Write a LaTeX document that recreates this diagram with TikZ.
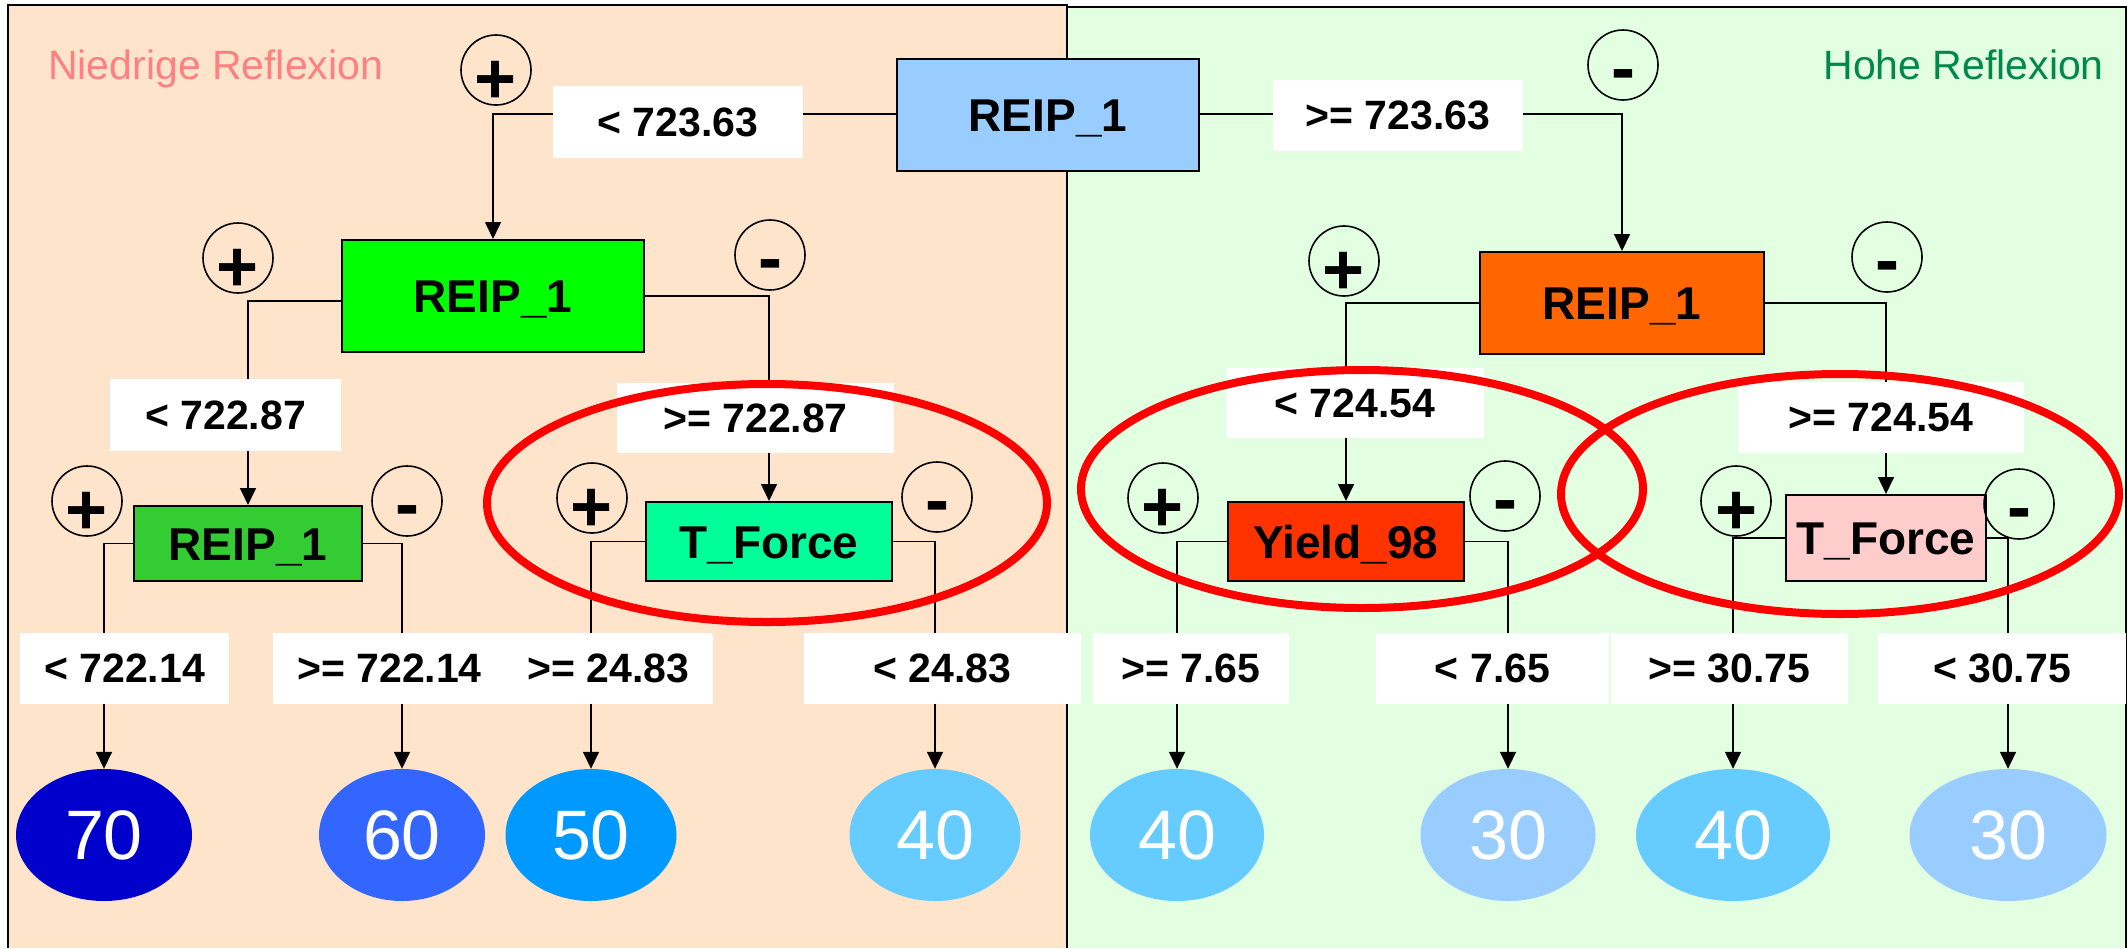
\documentclass[tikz,border=0pt]{standalone}
\usepackage{fontspec}
\setmainfont{Liberation Sans}
\usetikzlibrary{arrows.meta,shapes.geometric,calc}
\pgfdeclarelayer{bg}
\pgfdeclarelayer{edges}
\pgfdeclarelayer{fg}
\pgfsetlayers{bg,edges,main,fg}
\definecolor{peach}{HTML}{FFE4CC}
\definecolor{mint}{HTML}{E2FFE2}
\definecolor{cRoot}{HTML}{99CCFF}
\definecolor{cGreen}{HTML}{00FF00}
\definecolor{cSmall}{HTML}{33CC33}
\definecolor{cTF}{HTML}{00FF99}
\definecolor{cOrange}{HTML}{FF6600}
\definecolor{cYield}{HTML}{FF3300}
\definecolor{cPink}{HTML}{FFCCCC}
\definecolor{cL70}{HTML}{0000CC}
\definecolor{cL60}{HTML}{3366FF}
\definecolor{cL50}{HTML}{0099FF}
\definecolor{cL40}{HTML}{66CCFF}
\definecolor{cL30}{HTML}{99CCFF}
\definecolor{cNied}{HTML}{FF8080}
\definecolor{cHohe}{HTML}{00884A}
\begin{document}
\begin{tikzpicture}[x=1pt,y=-1pt,
  lbl/.style={fill=white, inner sep=0pt, font=\fontsize{41pt}{49pt}\selectfont\bfseries},
  box/.style={draw=black, line width=2pt, inner sep=0pt, font=\fontsize{46pt}{55pt}\selectfont\bfseries, text height=33pt, text depth=0pt},
  leaf/.style={ellipse, inner sep=0pt, text=white, minimum height=132pt, font=\fontsize{70pt}{84pt}\selectfont},
  sgn/.style={circle, draw=black, line width=1.6pt, minimum size=70pt, inner sep=0pt},
  sgntxt/.style={inner sep=0pt, anchor=base, font=\fontsize{72pt}{86pt}\selectfont\bfseries},
  con/.style={line width=1.6pt, -{Triangle[length=17pt,width=16pt]}},
  ring/.style={ellipse, draw=red, line width=8pt, inner sep=0pt},
  panel/.style={line width=2.5pt}
]
\path[use as bounding box] (0,0) rectangle (2127,948);

% panels
\begin{pgfonlayer}{bg}
\fill[peach] (8,5) rectangle (1067,948);
\draw[panel] (8,948) -- (8,5) -- (1067,5) -- (1067,948);
\fill[mint] (1067,7) rectangle (2126,948);
\draw[panel] (1067,948) -- (1067,7) -- (2126,7) -- (2126,948);
\end{pgfonlayer}

\node[anchor=base west, text=cNied, inner sep=0pt, font=\fontsize{41pt}{49pt}\selectfont] (tNied) at (48,79) {Niedrige Reflexion};
\node[anchor=base east, text=cHohe, inner sep=0pt, font=\fontsize{41pt}{49pt}\selectfont] (tHohe) at (2104,79) {Hohe Reflexion};

% decision boxes
\node[box, fill=cRoot, minimum width=302pt, minimum height=112pt] (root) at (1048,115) {REIP\_1};
\node[box, fill=cGreen, minimum width=302pt, minimum height=112pt] (g) at (493,296) {REIP\_1};
\node[box, fill=cOrange, minimum width=284pt, minimum height=102pt] (o) at (1622,303) {REIP\_1};
\node[box, fill=cSmall, minimum width=228pt, minimum height=75pt] (r3) at (248,543.5) {REIP\_1};
\node[box, fill=cTF, minimum width=246pt, minimum height=79pt] (tf1) at (769,541.5) {T\_Force};
\node[box, fill=cYield, minimum width=236pt, minimum height=79pt] (y98) at (1346,541.5) {Yield\_98};
\node[box, fill=cPink, minimum width=200pt, minimum height=86pt] (tf2) at (1886,538) {T\_Force};

% leaves
\node[leaf, fill=cL70, minimum width=176pt] (n70) at (104,835) {70};
\node[leaf, fill=cL60, minimum width=166pt] (n60) at (402,835) {60};
\node[leaf, fill=cL50, minimum width=171pt] (n50) at (591,835) {50};
\node[leaf, fill=cL40, minimum width=171pt] (n40a) at (935,835) {40};
\node[leaf, fill=cL40, minimum width=174pt] (n40b) at (1177,835) {40};
\node[leaf, fill=cL30, minimum width=175pt] (n30a) at (1508,835) {30};
\node[leaf, fill=cL40, minimum width=194pt] (n40c) at (1733,835) {40};
\node[leaf, fill=cL30, minimum width=197pt] (n30b) at (2008,835) {30};

% labels
\node[lbl, minimum width=250pt, minimum height=72pt] (l1) at (678,122) {< 723.63};
\node[lbl, minimum width=250pt, minimum height=71pt] (l2) at (1398,115.5) {>= 723.63};
\node[lbl, minimum width=231pt, minimum height=72pt] (l3) at (225.5,415) {< 722.87};
\node[lbl, minimum width=277pt, minimum height=70pt] (l4) at (755.5,418) {>= 722.87};
\node[lbl, minimum width=258pt, minimum height=70pt] (l5) at (1355,403) {< 724.54};
\node[lbl, minimum width=286pt, minimum height=71pt] (l6) at (1881,417.5) {>= 724.54};
\node[lbl, minimum width=209pt, minimum height=71pt] (l7) at (124.5,668.5) {< 722.14};
\node[lbl, minimum width=233pt, minimum height=71pt] (l8) at (389.5,668.5) {>= 722.14};
\node[lbl, minimum width=209pt, minimum height=71pt] (l9) at (608.5,668.5) {>= 24.83};
\node[lbl, minimum width=277pt, minimum height=71pt] (l10) at (942.5,668.5) {< 24.83};
\node[lbl, minimum width=196pt, minimum height=71pt] (l11) at (1191,668.5) {>= 7.65};
\node[lbl, minimum width=233pt, minimum height=71pt] (l12) at (1492.5,668.5) {< 7.65};
\node[lbl, minimum width=237pt, minimum height=71pt] (l13) at (1729.5,668.5) {>= 30.75};
\node[lbl, minimum width=248pt, minimum height=71pt] (l14) at (2002,668.5) {< 30.75};

% sign circles
\node[sgn] (c1) at (496,70) {};
\node[sgn] (c2) at (1623,65) {};
\node[sgn] (c3) at (238,258) {};
\node[sgn] (c4) at (770,255) {};
\node[sgn] (c5) at (1344,261) {};
\node[sgn] (c6) at (1887,257) {};
\node[sgn] (c7) at (87,501) {};
\node[sgn] (c8) at (407,501) {};
\node[sgn] (c9) at (592,498) {};
\node[sgn] (c10) at (937,497) {};
\node[sgn] (c11) at (1163,498) {};
\node[sgn] (c12) at (1505,496) {};
\node[sgn] (c13) at (1736,501) {};
\node[sgn] (c14) at (2019,504) {};
\node[sgntxt] (s1) at ([yshift=-33pt]c1.center) {+};
\node[sgntxt] (s2) at ([yshift=-27pt]c2.center) {-};
\node[sgntxt] (s3) at ([yshift=-33pt]c3.center) {+};
\node[sgntxt] (s4) at ([yshift=-27pt]c4.center) {-};
\node[sgntxt] (s5) at ([yshift=-33pt]c5.center) {+};
\node[sgntxt] (s6) at ([yshift=-27pt]c6.center) {-};
\node[sgntxt] (s7) at ([yshift=-33pt]c7.center) {+};
\node[sgntxt] (s8) at ([yshift=-27pt]c8.center) {-};
\node[sgntxt] (s9) at ([yshift=-33pt]c9.center) {+};
\node[sgntxt] (s10) at ([yshift=-27pt]c10.center) {-};
\node[sgntxt] (s11) at ([yshift=-33pt]c11.center) {+};
\node[sgntxt] (s12) at ([yshift=-27pt]c12.center) {-};
\node[sgntxt] (s13) at ([yshift=-33pt]c13.center) {+};
\node[sgntxt] (s14) at ([yshift=-27pt]c14.center) {-};

% connectors
\begin{pgfonlayer}{edges}
\draw[con] ([yshift=1pt]root.west) -| (g.north);
\draw[con] ([yshift=1pt]root.east) -| (o.north);
\draw[con] ([yshift=-5pt]g.west) -| (r3.north);
\draw[con] (g.east) -| (tf1.north);
\draw[con] (o.west) -| (y98.north);
\draw[con] (o.east) -| (tf2.north);
\draw[con] (r3.west) -| (n70.north);
\draw[con] (r3.east) -| (n60.north);
\draw[con] (tf1.west) -| (n50.north);
\draw[con] (tf1.east) -| (n40a.north);
\draw[con] (y98.west) -| (n40b.north);
\draw[con] (y98.east) -| (n30a.north);
\draw[con] (tf2.west) -| (n40c.north);
\draw[con] (tf2.east) -| (n30b.north);
\end{pgfonlayer}

% red highlight rings
\begin{pgfonlayer}{fg}
\node[ring, minimum width=560pt, minimum height=238pt] (e1) at (767,503) {};
\node[ring, minimum width=562pt, minimum height=238pt] (e2) at (1362,489) {};
\node[ring, minimum width=558pt, minimum height=240pt] (e3) at (1840,494) {};
\end{pgfonlayer}
\end{tikzpicture}
\end{document}
